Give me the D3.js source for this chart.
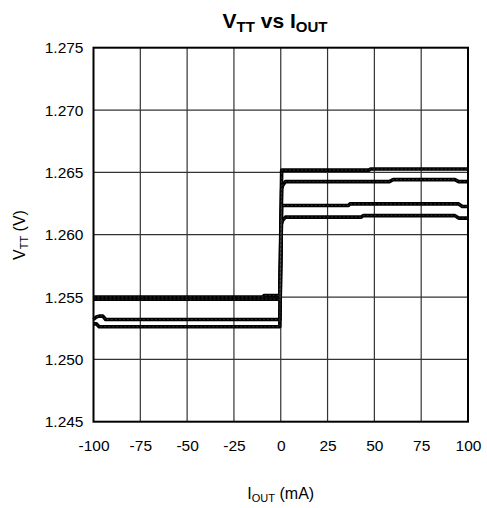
<!DOCTYPE html>
<html>
<head>
<meta charset="utf-8">
<script src="https://cdn.jsdelivr.net/npm/d3@7"></script>
<style>
  body { margin: 0; background: #fff; }
  text { font-family: "Liberation Sans", Arial, sans-serif; fill: #000; }
</style>
</head>
<body>
<div class="chart"></div>
<script>
// tick values
const xTicks = [-100, -75, -50, -25, 0, 25, 50, 75, 100];
const yTicks = [1.245, 1.250, 1.255, 1.260, 1.265, 1.270, 1.275];

// four measured traces, I_OUT (mA) vs V_TT (V)
const x1 = [-100, -9.5, -9, -0.5, 0.5, 47, 48, 100];
const y1 = [1.25500, 1.25500, 1.25511, 1.25511, 1.26518, 1.26518, 1.26527, 1.26527];

const x2 = [-100, -0.5, 0.5, 1, 2.5, 58, 60, 93, 95, 100];
const y2 = [1.25483, 1.25483, 1.26366, 1.26396, 1.26426, 1.26426, 1.26442, 1.26442, 1.26426, 1.26426];

const x3 = [-100, -98.5, -97, -95, -93.5, -0.5, 0.5, 36, 37, 95, 97, 100];
const y3 = [1.25320, 1.25340, 1.25347, 1.25347, 1.25320, 1.25320, 1.26234, 1.26234, 1.26247, 1.26247, 1.26226, 1.26226];

const x4 = [-100, -98.5, -97, -0.5, 0.3, 1, 2.5, 43, 44, 93, 95, 100];
const y4 = [1.25285, 1.25285, 1.25262, 1.25262, 1.26085, 1.26115, 1.26141, 1.26141, 1.26153, 1.26153, 1.26133, 1.26133];

const series = [[x1, y1], [x2, y2], [x3, y3], [x4, y4]]
  .map(([xs, ys]) => xs.map((x, i) => ({x: x, y: ys[i]})));

const margin = {top: 47.7, right: 19, bottom: 86.3, left: 93.5};
const width = 487 - margin.left - margin.right;
const height = 508 - margin.top - margin.bottom;

const xScale = d3.scaleLinear()
    .domain([-100, 100])
    .range([0, width]);

const yScale = d3.scaleLinear()
    .domain([1.245, 1.275])
    .range([height, 0]);

const svg = d3.select('.chart').append('svg')
    .attr('width', 487)
    .attr('height', 508);

const g = svg.append('g')
    .attr('transform', `translate(${margin.left},${margin.top})`);

// grid
g.append('g')
  .selectAll('line')
  .data(xTicks.slice(1, -1))
  .enter().append('line')
    .attr('x1', d => xScale(d)).attr('x2', d => xScale(d))
    .attr('y1', 0).attr('y2', height)
    .attr('stroke', '#333').attr('stroke-width', 1.2);

g.append('g')
  .selectAll('line')
  .data(yTicks.slice(1, -1))
  .enter().append('line')
    .attr('y1', d => yScale(d)).attr('y2', d => yScale(d))
    .attr('x1', 0).attr('x2', width)
    .attr('stroke', '#333').attr('stroke-width', 1.2);

// axes (labels only, frame drawn below)
const xAxis = g.append('g')
    .attr('transform', `translate(0,${height})`)
    .call(d3.axisBottom(xScale).tickValues(xTicks).tickSize(0).tickPadding(18).tickFormat(d => String(d)));

const yAxis = g.append('g')
    .call(d3.axisLeft(yScale).tickValues(yTicks).tickSize(0).tickPadding(10).tickFormat(d => d.toFixed(3)));

[xAxis, yAxis].forEach(a => {
  a.select('.domain').remove();
  a.selectAll('text')
    .style('font-family', '"Liberation Sans", Arial, sans-serif')
    .style('font-size', '15.5px')
    .attr('fill', '#000');
});

// traces
const line = d3.line()
    .x(d => xScale(d.x))
    .y(d => yScale(d.y));

const lines = g.append('g');
lines.selectAll('.trace')
  .data(series)
  .enter().append('path')
    .attr('class', 'trace')
    .attr('d', line)
    .attr('fill', 'none')
    .attr('stroke', '#000')
    .attr('stroke-width', 3.6)
    .attr('stroke-linejoin', 'round');

lines.selectAll('.trace-hl')
  .data(series)
  .enter().append('path')
    .attr('class', 'trace-hl')
    .attr('d', line)
    .attr('fill', 'none')
    .attr('stroke', '#fff')
    .attr('stroke-opacity', 0.3)
    .attr('stroke-width', 0.6)
    .attr('stroke-dasharray', '2,2');

// frame
g.append('rect')
    .attr('width', width)
    .attr('height', height)
    .attr('fill', 'none')
    .attr('stroke', '#000')
    .attr('stroke-width', 2);

// title
const title = svg.append('text')
    .attr('x', 275)
    .attr('y', 28)
    .attr('text-anchor', 'middle')
    .style('font-size', '21px')
    .style('font-weight', 'bold');
title.append('tspan').text('V');
title.append('tspan').attr('dy', 4).style('font-size', '15px').text('TT');
title.append('tspan').attr('dy', -4).text(' vs I');
title.append('tspan').attr('dy', 4).style('font-size', '15px').text('OUT');

// x label
const xLabel = svg.append('text')
    .attr('x', margin.left + width / 2)
    .attr('y', 499)
    .attr('text-anchor', 'middle')
    .style('font-size', '16px');
xLabel.append('tspan').text('I');
xLabel.append('tspan').attr('dy', 3).style('font-size', '11px').text('OUT');
xLabel.append('tspan').attr('dy', -3).text(' (mA)');

// y label
const yLabel = svg.append('text')
    .attr('transform', 'translate(25,235) rotate(-90)')
    .attr('text-anchor', 'middle')
    .style('font-size', '16px');
yLabel.append('tspan').text('V');
yLabel.append('tspan').attr('dy', 3).style('font-size', '11px').text('TT');
yLabel.append('tspan').attr('dy', -3).text(' (V)');
</script>
</body>
</html>
